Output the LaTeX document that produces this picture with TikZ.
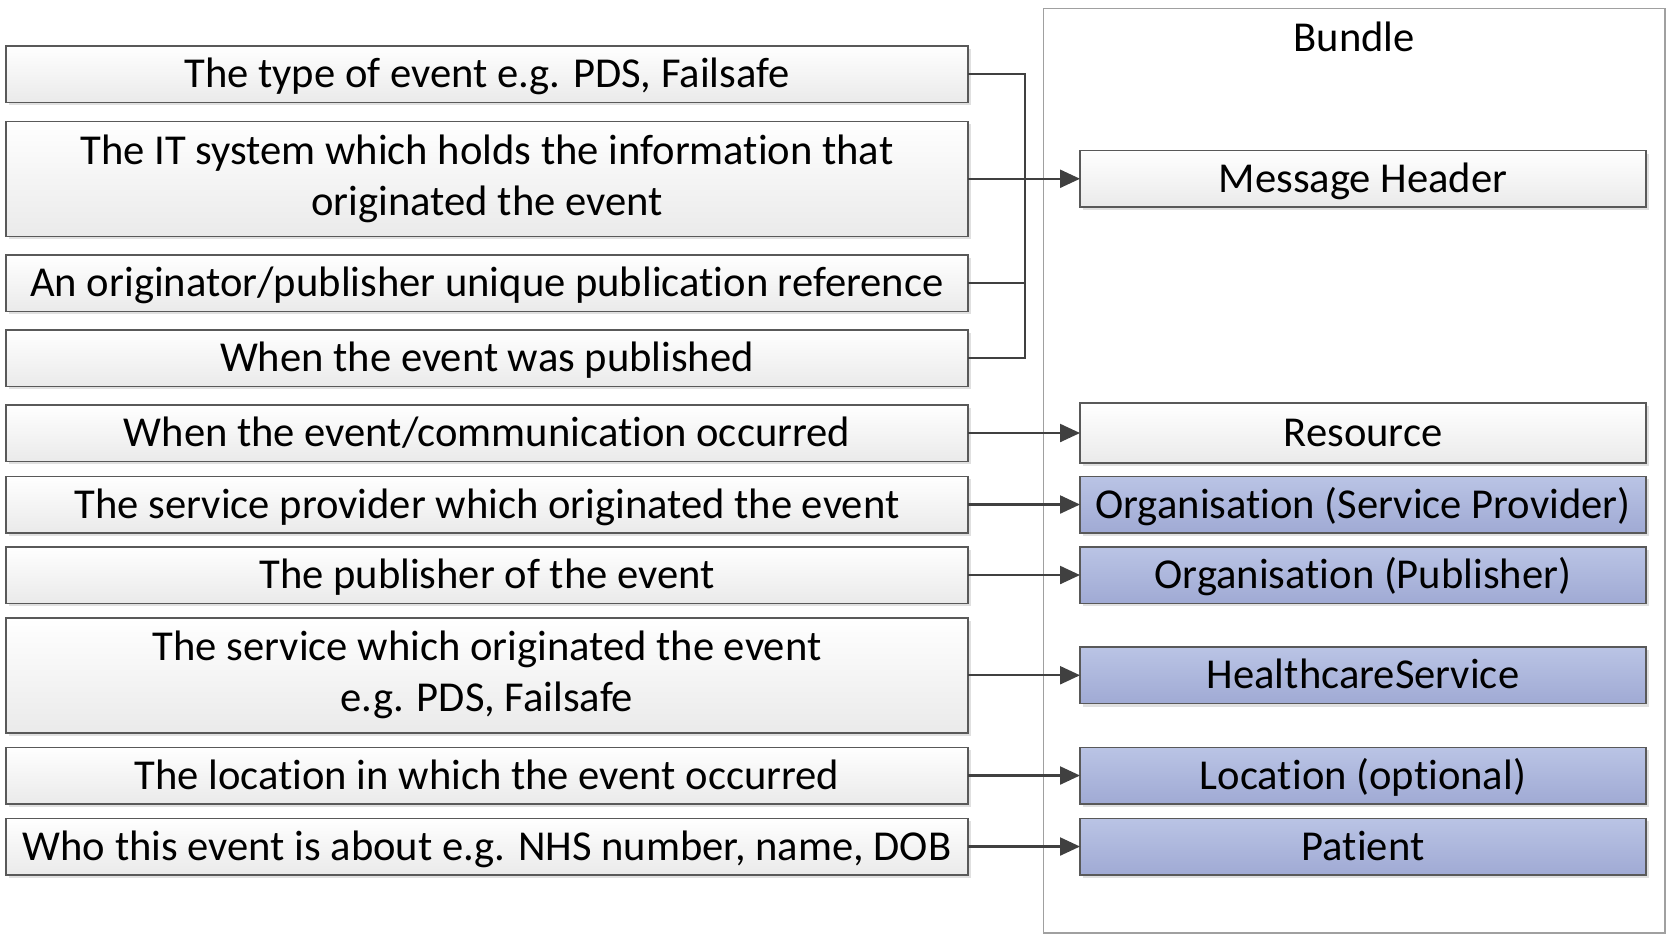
\documentclass[tikz,border=0pt]{standalone}
\usepackage{fontspec}
\setmainfont{Carlito}[Ligatures=NoCommon]
\usetikzlibrary{arrows.meta,positioning,calc,shadows}
\definecolor{boxline}{RGB}{89,89,89}
\definecolor{greybot}{RGB}{234,234,234}
\definecolor{bluetop}{RGB}{186,196,229}
\definecolor{bluebot}{RGB}{160,170,212}
\definecolor{wire}{RGB}{64,64,64}
\definecolor{bundleline}{RGB}{160,160,160}

\begin{document}
\begin{tikzpicture}[x=0.5pt, y=-0.5pt,
  font=\fontsize{21.3}{25.5}\selectfont,
  node distance=9.25pt,
  lbox/.style={draw=boxline, line width=0.75pt, top color=white, bottom color=greybot,
    minimum width=481pt, minimum height=28.25pt, align=center, inner sep=2pt, outer sep=0pt,
    text height=17pt, text depth=3.5pt,
    drop shadow={shadow xshift=1.5pt, shadow yshift=-1.5pt, fill=black!30, opacity=0.4}},
  tall/.style={minimum height=57.5pt, text height=, text depth=},
  rbox/.style={lbox, minimum width=283pt},
  bluebox/.style={rbox, top color=bluetop, bottom color=bluebot},
  bundlebox/.style={draw=bundleline, line width=0.75pt, minimum width=310.7pt, minimum height=462.25pt},
  arr/.style={-{Triangle[length=10pt,width=9pt]}, line width=1.15pt, wire}
]
\useasboundingbox (0,0) rectangle (1668,934);

\node[bundlebox] (bundle) at (1354.3,470.75) {};
\node[anchor=base, inner sep=0pt] (bundlelbl) at ($(bundle.north)+(0,43.5)$) {Bundle};

\node[lbox] (type) at (487,74) {The type of event e.g. PDS, Failsafe};
\node[lbox, tall, below=9.5pt of type] (sys) {The IT system which holds the information that\\originated the event};
\node[lbox, below=of sys] (ref) {An originator/publisher unique publication reference};
\node[lbox, below=of ref] (pub) {When the event was published};
\node[lbox, below=of pub] (occ) {When the event/communication occurred};
\node[lbox, below=7.5pt of occ] (prov) {The service provider which originated the event};
\node[lbox, below=7pt of prov] (publ) {The publisher of the event};
\node[lbox, tall, below=7.25pt of publ] (serv) {The service which originated the event\\e.g. PDS, Failsafe};
\node[lbox, below=7.25pt of serv] (loc) {The location in which the event occurred};
\node[lbox, below=7.25pt of loc] (who) {Who this event is about e.g. NHS number, name, DOB};

\coordinate (rcol) at (1363,0);
\coordinate (bus) at (1025,0);

\node[rbox] (mh) at (sys.center -| rcol) {Message Header};
\node[rbox, minimum height=30pt] (res) at (occ.center -| rcol) {Resource};
\node[bluebox] (orgsp) at (prov.center -| rcol) {Organisation (Service Provider)};
\node[bluebox] (orgpub) at (publ.center -| rcol) {Organisation (Publisher)};
\node[bluebox] (hcs) at (serv.center -| rcol) {HealthcareService};
\node[bluebox] (locn) at (loc.center -| rcol) {Location (optional)};
\node[bluebox] (pat) at (who.center -| rcol) {Patient};

\draw[wire, line width=1.35pt] (type.east) -- (type.east -| bus) -- (pub.east -| bus) -- (pub.east);
\draw[wire, line width=1.15pt] (ref.east) -- (ref.east -| bus);
\draw[arr] (sys.east) -- (mh.west);
\draw[arr] (occ.east) -- (res.west);
\draw[arr] (prov.east) -- (orgsp.west);
\draw[arr] (publ.east) -- (orgpub.west);
\draw[arr] (serv.east) -- (hcs.west);
\draw[arr] (loc.east) -- (locn.west);
\draw[arr] (who.east) -- (pat.west);
\end{tikzpicture}
\end{document}
